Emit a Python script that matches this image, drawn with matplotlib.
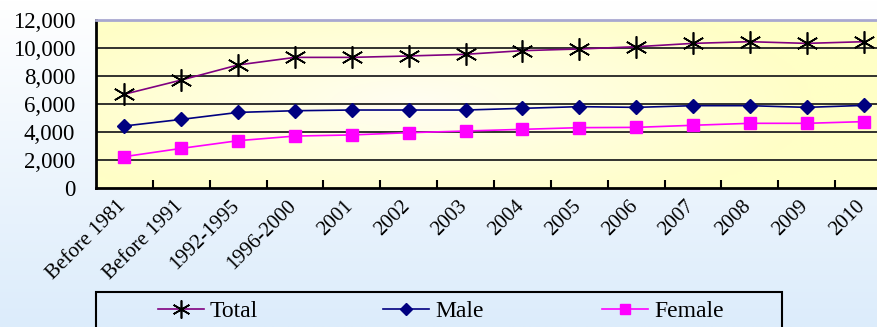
import numpy as np
import matplotlib.pyplot as plt
import matplotlib.transforms as mtransforms
from matplotlib.patches import Rectangle
from matplotlib.ticker import FuncFormatter

# 数据
categories = ['Before 1981', 'Before 1991', '1992-1995', '1996-2000', '2001', '2002', '2003',
              '2004', '2005', '2006', '2007', '2008', '2009', '2010']
total = [6700, 7710, 8790, 9330, 9330, 9430, 9550, 9810, 9930, 10090, 10330, 10450, 10330, 10450]
male = [4430, 4900, 5400, 5520, 5570, 5570, 5570, 5690, 5810, 5760, 5880, 5880, 5760, 5900]
female = [2240, 2830, 3380, 3710, 3790, 3950, 4070, 4190, 4310, 4330, 4480, 4620, 4620, 4740]
series_names = ['Total', 'Male', 'Female']

W, H = 878, 327
fig = plt.figure(figsize=(W / 100, H / 100), dpi=100)

# 图背景: 上白下浅蓝
bg = fig.add_axes([0, 0, 1, 1], zorder=-10)
g = np.linspace(0, 1, 200)[:, None]
top = np.array([1.0, 1.0, 1.0])
bot = np.array([0xdc, 0xec, 0xfb]) / 255
img = (top * (1 - g) + bot * g)[:, None, :].repeat(2, axis=1)
bg.imshow(img, aspect='auto', extent=[0, 1, 0, 1])
bg.set_axis_off()

# 绘图区
left, right = 96, 892
top_px, bot_px = 20, 188
ax = fig.add_axes([left / W, 1 - bot_px / H, (right - left) / W, (bot_px - top_px) / H])
x = np.arange(len(categories))
ax.set_xlim(-0.5, len(categories) - 0.5)
ax.set_ylim(0, 12000)

# 淡黄渐变背景(中间偏白)
xx, yy = np.meshgrid(np.linspace(-1, 1, 300), np.linspace(-1, 1, 100))
r = np.clip(np.sqrt(((xx + 0.2) / 1.0) ** 2 + (yy / 1.4) ** 2), 0, 1)
white = np.array([1.0, 0.995, 0.95])
yel = np.array([1.0, 1.0, 0xc6 / 255])
grad = white * (1 - r[..., None]) + yel * r[..., None]
ax.imshow(grad, aspect='auto', extent=[-0.5, len(categories) - 0.5, 0, 12000], zorder=0)

for v in range(2000, 12000, 2000):
    ax.axhline(v, color='#222222', lw=1.3, zorder=1)

ax.plot(x, total, color='#800080', lw=1.2, zorder=3)
ax.plot(x, total, ls='none', marker=(6, 2, 0), ms=16, mec='black', mew=1.2, zorder=4)
ax.plot(x, male, color='#000080', lw=1.2, marker='D', ms=7, mfc='#000080', mec='#000080', zorder=3)
ax.plot(x, female, color='#ff00ff', lw=1.2, marker='s', ms=8, mfc='#ff00ff', mec='#ff00ff', zorder=3)

ax.spines['right'].set_visible(False)
ax.spines['top'].set_color('#a8a8d0')
ax.spines['top'].set_linewidth(2)
ax.spines['left'].set_linewidth(2)
ax.spines['bottom'].set_linewidth(2)

ax.set_yticks(range(0, 12001, 2000))
ax.yaxis.set_major_formatter(FuncFormatter(lambda v, p: f'{int(v):,}'))
ax.tick_params(axis='y', length=0, pad=15)
for t in ax.get_yticklabels():
    t.set_fontfamily('Liberation Serif')
    t.set_fontsize(16.5)

ax.set_xticks(np.arange(0.5, len(categories) - 0.5, 1), minor=False)
ax.set_xticklabels([])
ax.tick_params(axis='x', which='major', direction='in', length=6, width=1.5)
ax.set_xticks(x, minor=True)
ax.set_xticklabels(categories, minor=True, rotation=45, ha='right', va='top',
                   rotation_mode='anchor', fontfamily='Liberation Serif', fontsize=15)
ax.tick_params(axis='x', which='minor', length=0, pad=6)
shift = mtransforms.ScaledTranslation(-8 / 100, 0, fig.dpi_scale_trans)
for t in ax.get_xticklabels(minor=True):
    t.set_transform(t.get_transform() + shift)

# 图例(手动放置三项)
fig.patches.append(Rectangle((96 / W, -0.05), 686 / W, 1 - 292 / H + 0.05,
                             transform=fig.transFigure, fill=False, edgecolor='black', lw=1.5))
h1, = ax.plot([], [], color='#800080', lw=1.2, marker=(6, 2, 0), ms=13, mec='black', mew=1.2)
h2, = ax.plot([], [], color='#000080', lw=1.2, marker='D', ms=6, mfc='#000080', mec='#000080')
h3, = ax.plot([], [], color='#ff00ff', lw=1.2, marker='s', ms=7, mfc='#ff00ff', mec='#ff00ff')
for h, name, hx in zip([h1, h2, h3], series_names, [158, 383, 602]):
    lg = fig.legend([h], [name], loc='center left', bbox_to_anchor=(hx / W, 1 - 311 / H),
                    frameon=False, prop={'family': 'Liberation Serif', 'size': 17},
                    handlelength=46 / 23.6, handletextpad=0.25, borderpad=0, borderaxespad=0)

fig.savefig('out.png', dpi=100)
